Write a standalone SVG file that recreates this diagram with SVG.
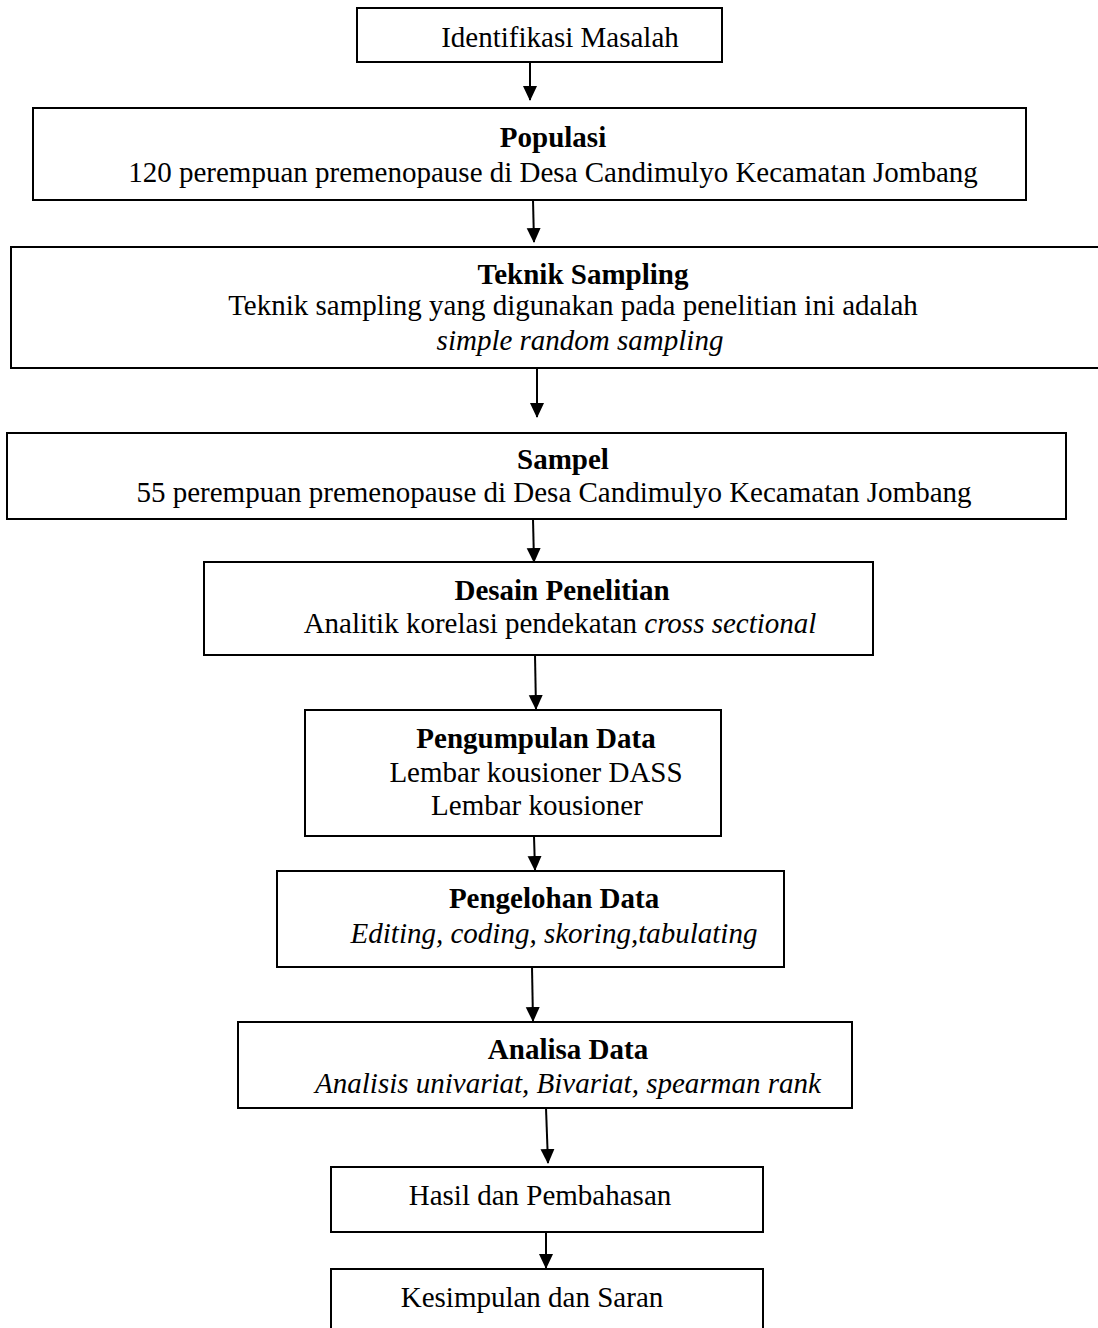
<svg xmlns="http://www.w3.org/2000/svg" width="1098" height="1328" viewBox="0 0 1098 1328">
<defs>
<style>
.box{fill:#fff;stroke:#000;stroke-width:2}
text{font-family:"Liberation Serif","Times New Roman",serif;font-size:29px;fill:#000;text-anchor:middle}
.b{font-weight:bold}
.i{font-style:italic}
.con{stroke:#000;stroke-width:2;fill:none;marker-end:url(#ah)}
</style>
<marker id="ah" markerUnits="userSpaceOnUse" markerWidth="16" markerHeight="18" refX="14" refY="7" orient="auto">
<path d="M0,0 L15,7 L0,14 Z" fill="#000"/>
</marker>
</defs>
<rect width="1098" height="1328" fill="#fff"/>
<g id="connectors">
<line class="con" x1="530" y1="62" x2="530" y2="100"/>
<line class="con" x1="533" y1="200" x2="534" y2="242"/>
<line class="con" x1="537" y1="368" x2="537" y2="417"/>
<line class="con" x1="533" y1="519" x2="534" y2="562"/>
<line class="con" x1="535" y1="655" x2="536" y2="709"/>
<line class="con" x1="534" y1="836" x2="535" y2="870"/>
<line class="con" x1="532" y1="967" x2="533" y2="1021"/>
<line class="con" x1="546" y1="1108" x2="548" y2="1163"/>
<line class="con" x1="546" y1="1232" x2="546" y2="1268"/>
</g>
<g id="identifikasi">
<rect class="box" x="357" y="8" width="365" height="54"/>
<text x="560" y="47">Identifikasi Masalah</text>
</g>
<g id="populasi">
<rect class="box" x="33" y="108" width="993" height="92"/>
<text class="b" x="553" y="147">Populasi</text>
<text x="553" y="182">120 perempuan premenopause di Desa Candimulyo Kecamatan Jombang</text>
</g>
<g id="teknik">
<rect class="box" x="11" y="247" width="1100" height="121"/>
<text class="b" x="583" y="284">Teknik Sampling</text>
<text x="573" y="315">Teknik sampling yang digunakan pada penelitian ini adalah</text>
<text class="i" x="580" y="350">simple random sampling</text>
</g>
<g id="sampel">
<rect class="box" x="7" y="433" width="1059" height="86"/>
<text class="b" x="563" y="469">Sampel</text>
<text x="554" y="502">55 perempuan premenopause di Desa Candimulyo Kecamatan Jombang</text>
</g>
<g id="desain">
<rect class="box" x="204" y="562" width="669" height="93"/>
<text class="b" x="562" y="600">Desain Penelitian</text>
<text x="560" y="633">Analitik korelasi pendekatan <tspan class="i">cross sectional</tspan></text>
</g>
<g id="pengumpulan">
<rect class="box" x="305" y="710" width="416" height="126"/>
<text class="b" x="536" y="748">Pengumpulan Data</text>
<text x="536" y="782">Lembar kousioner DASS</text>
<text x="537" y="815">Lembar kousioner</text>
</g>
<g id="pengelohan">
<rect class="box" x="277" y="871" width="507" height="96"/>
<text class="b" x="554" y="908">Pengelohan Data</text>
<text class="i" x="554" y="943">Editing, coding, skoring,tabulating</text>
</g>
<g id="analisa">
<rect class="box" x="238" y="1022" width="614" height="86"/>
<text class="b" x="568" y="1059">Analisa Data</text>
<text class="i" x="568" y="1093">Analisis univariat, Bivariat, spearman rank</text>
</g>
<g id="hasil">
<rect class="box" x="331" y="1167" width="432" height="65"/>
<text x="540" y="1205">Hasil dan Pembahasan</text>
</g>
<g id="kesimpulan">
<rect class="box" x="331" y="1269" width="432" height="75"/>
<text x="532" y="1307">Kesimpulan dan Saran</text>
</g>
</svg>
